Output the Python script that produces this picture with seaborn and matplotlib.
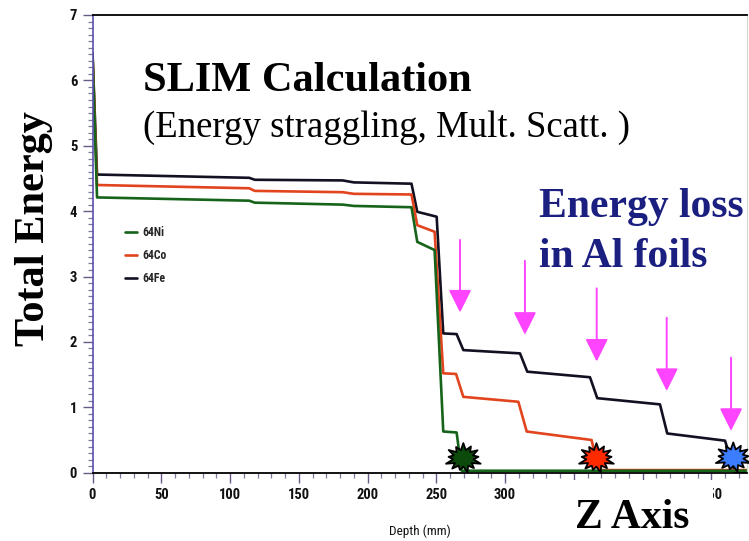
import math
import matplotlib
matplotlib.use("Agg")
import matplotlib.pyplot as plt
import seaborn as sns
import pandas as pd
from matplotlib.path import Path
from matplotlib.patches import Rectangle
from matplotlib.ticker import MultipleLocator
from matplotlib import font_manager as fm

# ---- data: total energy vs depth for three A=64 isotopes ----
ni_depth = [0, 3.3, 114, 118, 182, 190, 232, 236.2, 248.8, 255.1, 264.8, 268.5, 476]
ni_energy = [6.42, 4.21, 4.16, 4.13, 4.10, 4.08, 4.06, 3.53, 3.405, 0.63, 0.615, 0.03, 0.03]

co_depth = [0, 3.3, 114, 118, 182, 190, 232, 236.2, 248.8, 255.1, 264.4, 269.7, 309.7,
            315.8, 363, 367.9, 476]
co_energy = [6.42, 4.40, 4.35, 4.31, 4.29, 4.265, 4.255, 3.785, 3.685, 1.52, 1.51, 1.16,
             1.085, 0.63, 0.50, 0.04, 0.04]

fe_depth = [0, 3.3, 114, 118, 182, 190, 232, 236.2, 250.3, 255.1, 264.8, 269.7, 310.9,
            316.2, 361.8, 367.1, 412.7, 418.0, 460, 467.3, 476]
fe_energy = [6.42, 4.56, 4.51, 4.48, 4.47, 4.44, 4.42, 3.99, 3.915, 2.13, 2.12, 1.875,
             1.825, 1.545, 1.46, 1.14, 1.045, 0.60, 0.49, 0.0, 0.0]

isotopes = ["64Ni", "64Co", "64Fe"]
line_colors = {"64Ni": "#16631a", "64Co": "#e2441e", "64Fe": "#111122"}

# stopping points of each ion
stop_depth = [269.7, 366.5, 466.0]
stop_energy = [0.22, 0.22, 0.23]
stop_colors = ["#0b4a0b", "#ff2a00", "#3c7cff"]

# Al foil positions (arrows)
foil_depth = [267.3, 314.5, 366.7, 417.6, 464.4]
foil_arrow_top = [3.56, 3.24, 2.82, 2.37, 1.76]
foil_arrow_tip = [2.45, 2.11, 1.70, 1.25, 0.64]

x_ticks = [0, 50, 100, 150, 200, 250, 300, 350, 400, 450]
x_tick_labels = ["0", "50", "100", "150", "200", "250", "300", "", "", "450"]
y_ticks = [0, 1, 2, 3, 4, 5, 6, 7]

# ---- fonts ----
sns.set_style("white")


def _num(v, table):
    return v if isinstance(v, (int, float)) else table.get(v, 400)


fonts = [(f.name, _num(f.weight, fm.weight_dict), _num(f.stretch, fm.stretch_dict))
         for f in fm.fontManager.ttflist]


def pick_narrow_bold():
    for name in ["Liberation Sans Narrow", "Roboto Condensed", "Arial Narrow"]:
        if any(n == name and w >= 600 for n, w, s in fonts):
            return name, "normal"
    if any(n == "DejaVu Sans" and w >= 600 and s < 500 for n, w, s in fonts):
        return "DejaVu Sans", "condensed"
    for name in ["Liberation Sans Narrow", "Roboto Condensed", "Arial Narrow"]:
        if any(n == name for n, w, s in fonts):
            return name, "normal"
    return "DejaVu Sans", "condensed"


narrow, stretch = pick_narrow_bold()
serif = "Liberation Serif"

W, H = 749, 541
fig = plt.figure(figsize=(W / 100, H / 100), dpi=100)
fig.patch.set_facecolor("white")

ax_l, ax_r, ax_t, ax_b = 92.5, 747.0, 15.0, 472.7
ax = fig.add_axes([ax_l / W, 1 - ax_b / H, (ax_r - ax_l) / W, (ax_b - ax_t) / H])


def fx(px):
    return px / W


def fy(py):
    return 1 - py / H


frames = {
    "64Ni": pd.DataFrame({"depth": ni_depth, "energy": ni_energy}),
    "64Co": pd.DataFrame({"depth": co_depth, "energy": co_energy}),
    "64Fe": pd.DataFrame({"depth": fe_depth, "energy": fe_energy}),
}

# draw Fe first so that Co and Ni sit on top where the curves reach zero
handles = {}
for iso in ["64Fe", "64Co", "64Ni"]:
    sns.lineplot(data=frames[iso], x="depth", y="energy", ax=ax, sort=False,
                 estimator=None, color=line_colors[iso], linewidth=1.9,
                 legend=False)
    handles[iso] = ax.lines[-1]

# starburst marker
outer = [1.0, 0.84, 0.96, 0.80, 1.0, 0.9, 0.78, 0.95, 0.86, 1.0, 0.82, 0.93, 0.88]
n = len(outer)
verts = []
for i, r in enumerate(outer):
    a0 = math.pi / 2 + 2 * math.pi * i / n
    a1 = a0 + math.pi / n
    verts.append((r * math.cos(a0), 0.82 * r * math.sin(a0)))
    verts.append((0.55 * math.cos(a1), 0.82 * 0.55 * math.sin(a1)))
verts.append(verts[0])
codes = [Path.MOVETO] + [Path.LINETO] * (len(verts) - 2) + [Path.CLOSEPOLY]
star = Path(verts, codes)

ax.scatter(stop_depth, stop_energy, s=25 ** 2, marker=star, c=stop_colors,
           edgecolors="black", linewidths=1.3, zorder=6, clip_on=False)

# arrows marking the Al foils
for d, top, tip in zip(foil_depth, foil_arrow_top, foil_arrow_tip):
    ax.annotate("", xy=(d, tip), xytext=(d, top),
                arrowprops=dict(arrowstyle="-|>,head_length=0.7,head_width=0.35",
                                mutation_scale=20, lw=1.4, color="#ff44ff",
                                shrinkA=0, shrinkB=0),
                zorder=7)

# ---- axes styling ----
ax.set_xlim(0, 476)
ax.set_ylim(0, 7)
ax.set_xticks(x_ticks)
ax.set_xticklabels(x_tick_labels)
ax.set_yticks(y_ticks)
ax.xaxis.set_minor_locator(MultipleLocator(10))
ax.yaxis.set_minor_locator(MultipleLocator(0.1))
ax.tick_params(axis="both", which="major", direction="out", length=7, width=1.0,
               color="#6a5a8a", labelsize=10.5, pad=4)
ax.tick_params(axis="both", which="minor", direction="out", length=3.8, width=0.9,
               color="#7a7a9a")
ax.tick_params(axis="x", which="both", bottom=True, top=False)
ax.tick_params(axis="y", which="both", left=True, right=False)
for lab in ax.get_xticklabels() + ax.get_yticklabels():
    lab.set_fontfamily(narrow)
    lab.set_fontstretch(stretch)
    lab.set_fontweight("bold")
    lab.set_color("#111111")

for side in ["top", "bottom"]:
    ax.spines[side].set_color("black")
    ax.spines[side].set_linewidth(1.3)
ax.spines["left"].set_color("#5a4fae")
ax.spines["left"].set_linewidth(1.2)
ax.spines["right"].set_color("#d8d8c8")
ax.spines["right"].set_linewidth(0.9)

ax.set_xlabel("Depth (mm)", fontfamily=narrow, fontstretch=stretch, fontsize=9.5,
              labelpad=16, color="#111111")
ax.set_ylabel("")

leg = ax.legend([handles[i] for i in isotopes], isotopes, loc="upper left",
                bbox_to_anchor=(fx(125), fy(226)), bbox_transform=fig.transFigure,
                frameon=False, borderpad=0, borderaxespad=0, handlelength=1.0,
                handletextpad=0.45, labelspacing=0.85,
                prop=dict(family=narrow, stretch=stretch, weight="bold", size=8.5))

# white panel behind the "Z Axis" caption
fig.patches.append(Rectangle((fx(550), 0), fx(713) - fx(550), fy(480),
                             transform=fig.transFigure, facecolor="white",
                             edgecolor="none", zorder=10))

# ---- captions ----
fig.text(fx(143), fy(90.7), "SLIM Calculation", family=serif, weight="bold",
         fontsize=30.5, va="baseline", ha="left", color="black", zorder=11)
fig.text(fx(142.7), fy(136.7), "(Energy straggling, Mult. Scatt. )", family=serif,
         fontsize=26.5, va="baseline", ha="left", color="black", zorder=11)
fig.text(fx(539.3), fy(216.7), "Energy loss", family=serif, weight="bold",
         fontsize=30, va="baseline", ha="left", color="#1b1f80", zorder=11)
fig.text(fx(539.3), fy(266.7), "in Al foils", family=serif, weight="bold",
         fontsize=30, va="baseline", ha="left", color="#1b1f80", zorder=11)
fig.text(fx(34), fy(229), "Total Energy", family=serif, weight="bold",
         fontsize=30.5, rotation=90, va="center", ha="center", color="black",
         zorder=11)
fig.text(fx(575), fy(528), "Z Axis", family=serif, weight="bold", fontsize=30,
         va="baseline", ha="left", color="black", zorder=11)

fig.savefig("out.png", dpi=100)
